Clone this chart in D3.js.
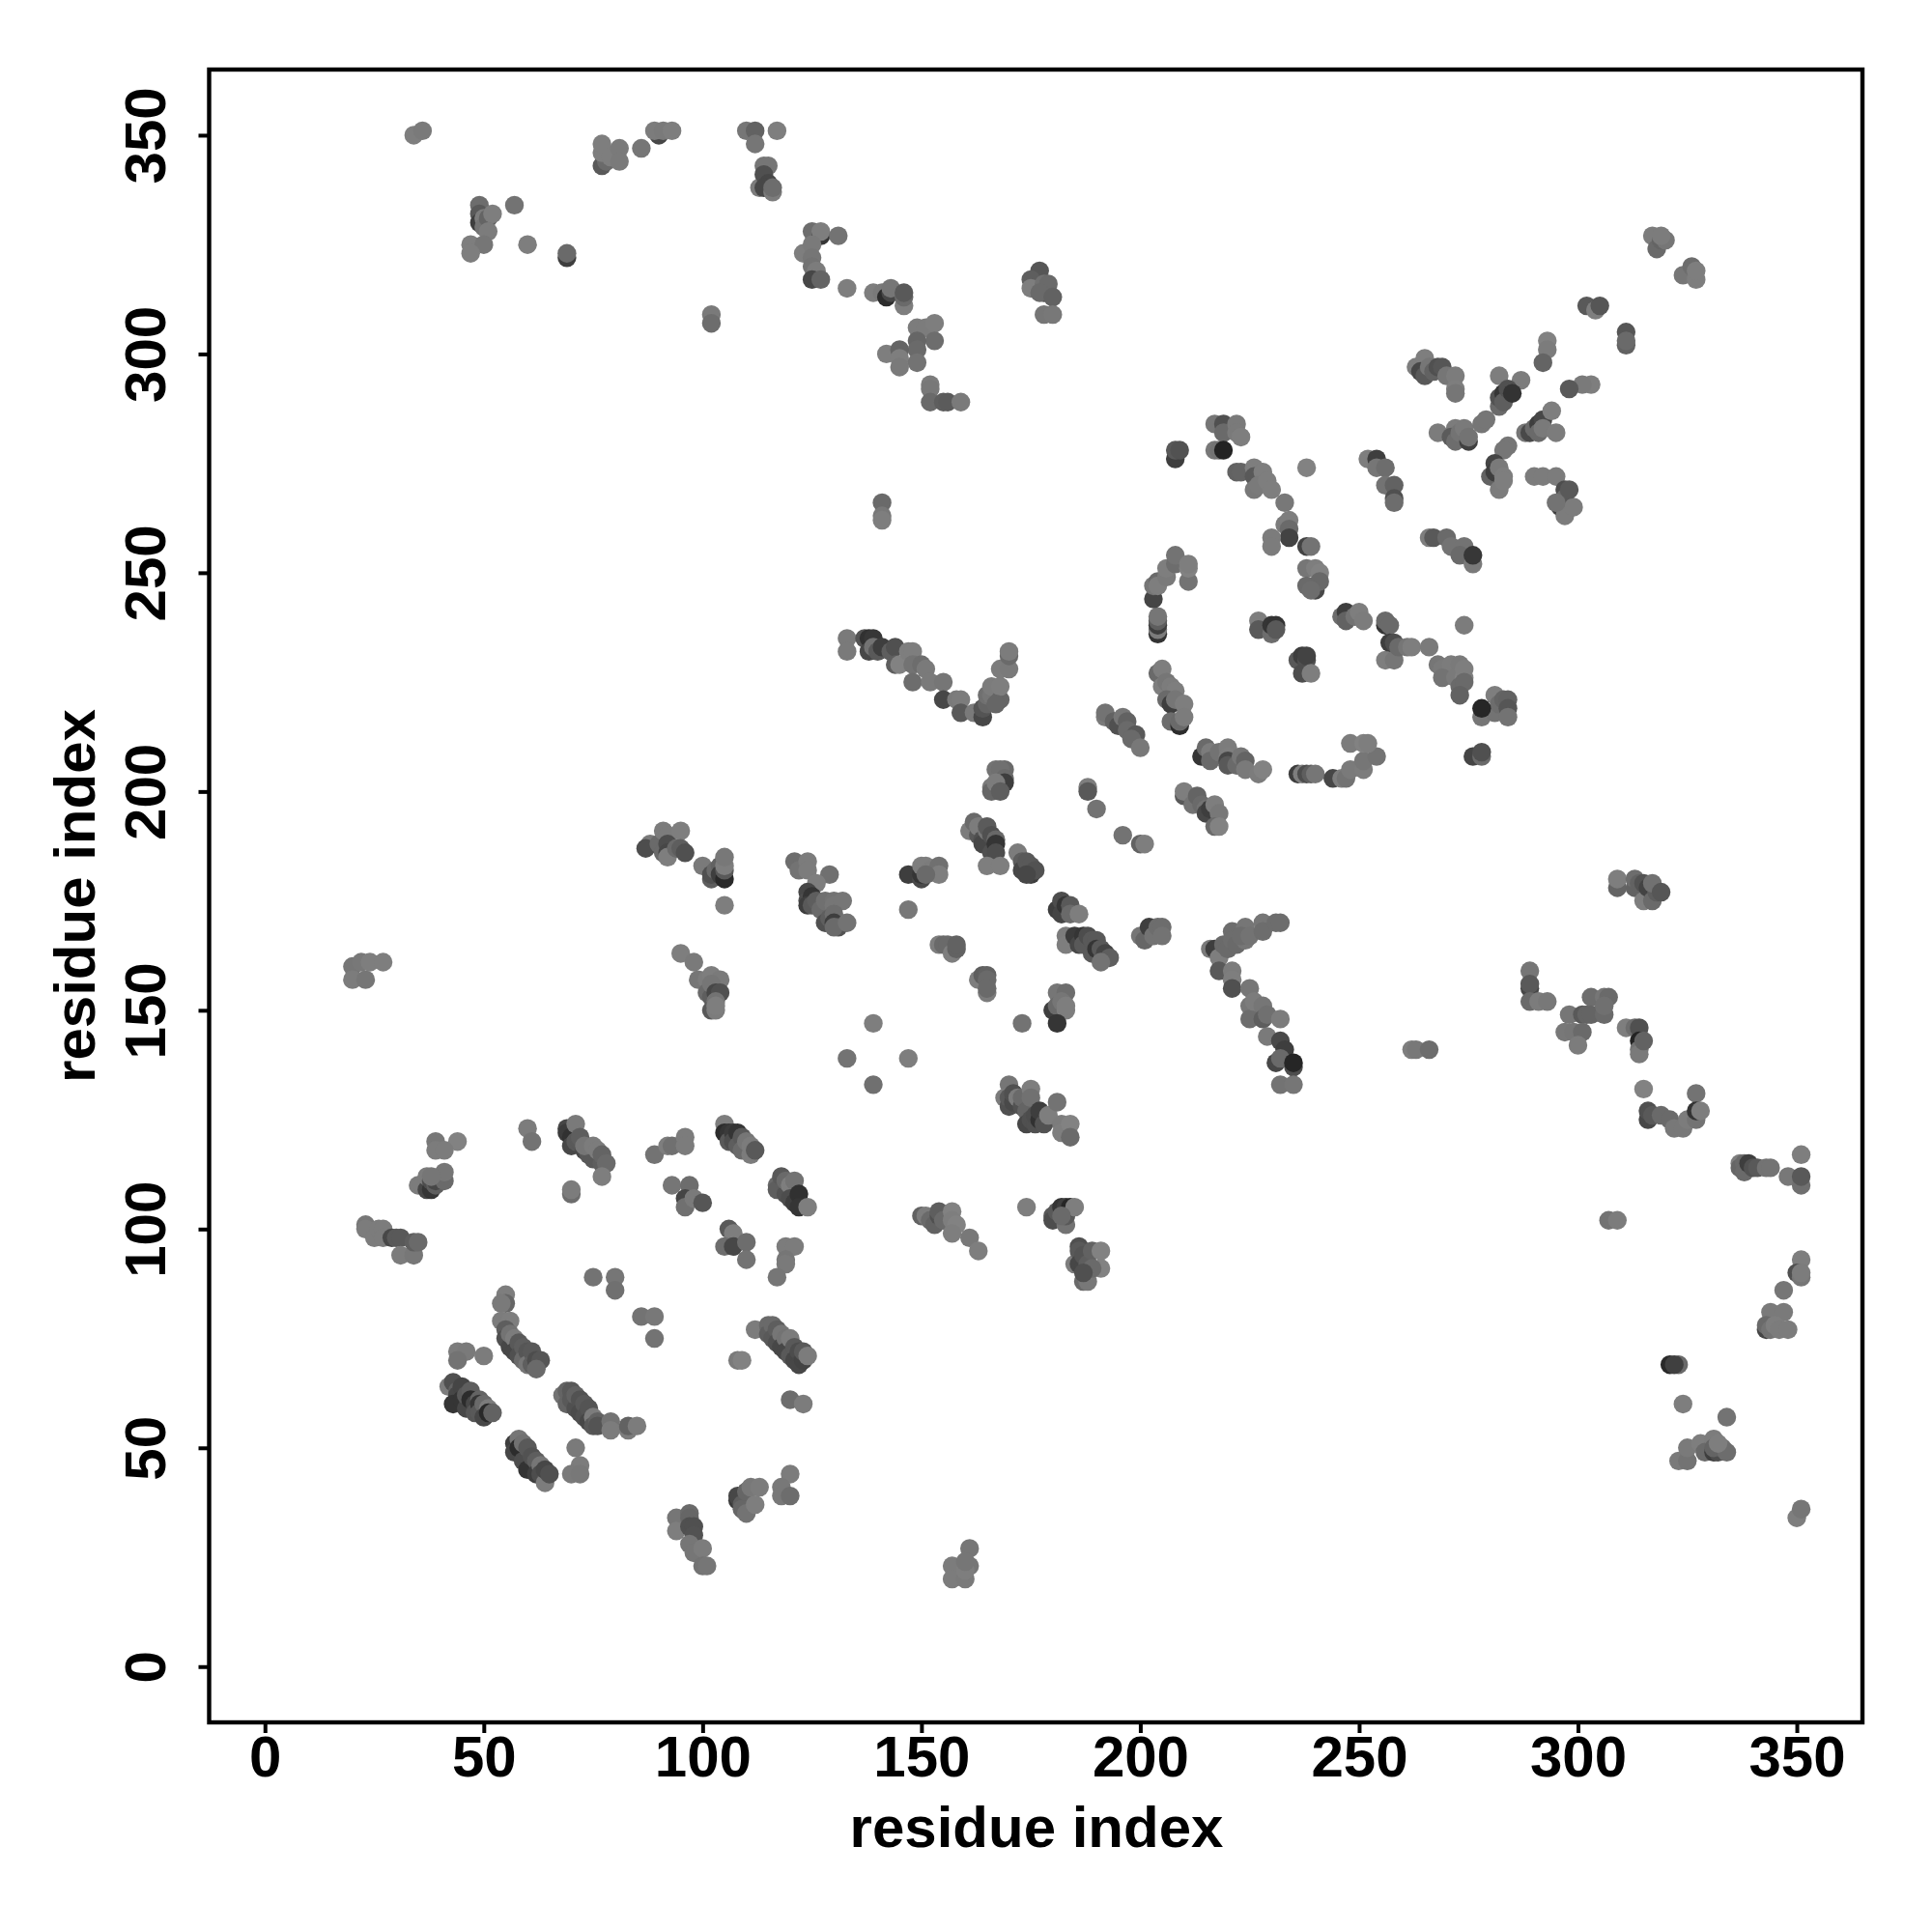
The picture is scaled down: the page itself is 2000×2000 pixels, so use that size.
<!DOCTYPE html>
<html><head><meta charset="utf-8">
<script src="https://d3js.org/d3.v7.min.js"></script>
<style>html,body{margin:0;background:#fff}svg{display:block}text{font-family:"Liberation Sans",Arial,sans-serif;font-weight:bold;fill:#000}</style>
</head><body><div id="chart"></div>
<script>
const tickValues=[0,50,100,150,200,250,300,350];
const xTitle="residue index", yTitle="residue index";
const residueI=[
39,44,39,41,
35,36,37,38,37,38,39,39,41,41,38,
23,23,25,26,27,27,29,30,31,31,34,34,35,
60,61,
69,69,70,71,70,71,72,72,73,74,75,73,75,76,77,77,78,77,
70,70,
89,92,93,96,96,
105,105,106,106,107,107,108,108,109,109,110,111,111,112,
93,97,96,96,98,100,
106,107,105,107,110,110,
75,80,80,86,89,89,
55,55,54,54,56,55,55,56,56,57,57,58,58,59,59,60,60,61,61,62,63,62,
44,46,44,50,
42,43,44,44,43,45,45,46,46,47,47,48,48,49,49,49,50,50,51,51,52,
68,69,69,70,70,71,71,72,72,73,73,74,74,75,75,76,76,79,79,83,83,85,
57,57,58,58,59,59,60,60,61,62,62,63,63,64,64,65,
71,72,70,72,
94,94,97,97,97,98,98,97,98,100,100,101,
108,108,109,109,110,110,111,113,112,
117,117,118,119,119,120,120,121,121,122,122,124,
119,121,119,119,117,
108,109,112,115,115,116,116,117,117,118,118,119,119,120,120,121,121,122,122,123,123,124,
120,123,120,118,118,120,
133,139,139,147,
170,169,170,170,171,171,172,173,173,174,175,175,174,175,176,176,177,177,178,179,181,182,182,184,184,
150,151,152,153,154,154,155,157,157,158,157,161,163,
174,180,180,181,182,183,183,183,184,185,182,
185,186,186,186,187,187,188,189,187,188,191,191,189,187,
157,157,160,161,160,161,160,
88,87,90,91,92,91,92,92,92,94,95,95,96,
100,102,102,103,104,104,105,105,105,105,
105,
121,122,124,124,129,126,124,124,125,124,125,126,127,128,130,130,132,128,129,130,130,131,130,133,
147,150,150,150,151,152,154,154,151,
147,
95,98,99,101,102,104,101,102,102,103,104,103,102,103,103,
154,155,156,157,158,158,
163,164,165,165,165,165,
181,183,180,181,182,183,183,181,
173,
133,133,137,138,139,138,139,140,141,143,144,144,145,147,148,148,150,151,148,152,155,155,158,159,159,162,164,164,165,165,166,166,168,168,168,170,170,170,167,
167,169,168,169,169,166,166,167,168,
161,162,163,163,164,164,165,165,166,166,167,167,167,165,168,172,173,173,174,175,175,176,174,
181,182,182,183,184,184,186,183,183,185,186,187,187,188,189,189,190,190,191,192,193,191,
188,188,190,196,200,201,
210,210,212,213,214,215,215,216,217,218,217,218,
214,215,216,216,218,220,220,220,220,222,223,224,224,227,228,
236,237,238,239,240,
244,246,247,248,251,251,254,248,251,252,
204,204,204,204,204,203,203,204,204,206,206,208,208,211,211,211,
192,192,194,195,196,197,197,199,198,200,
204,205,205,206,207,208,206,207,208,210,207,209,209,210,
217,219,219,222,222,223,217,218,219,
208,208,209,
222,223,226,226,226,228,227,229,230,
238,
233,233,234,234,234,230,230,
238,239,
238,240,241,240,238,240,241,239,
252,254,254,256,256,258,258,258,
266,267,270,271,274,273,276,276,
227,227,230,230,231,231,
246,247,247,249,250,251,
256,256,257,256,258,257,258,259,261,262,266,274,
236,237,238,237,238,239,
268,269,271,273,269,272,274,274,273,274,273,
278,281,281,282,283,284,284,284,278,
276,278,278,
268,272,271,272,273,274,275,275,278,279,
284,283,281,280,281,282,282,283,283,
317,318,319,320,319,
324,326,327,327,
302,304,305,
311,311,311,
293,293,292,
303,301,298,
282,287,282,282,283,283,284,285,
263,265,264,265,266,267,268,269,270,272,272,272,
288,289,290,291,291,292,292,295,294,
290,292,295,297,297,296,297,297,299,295,298,
216,217,218,218,221,221,221,225,225,225,226,228,228,229,229,232,231,232,233,232,235,235,232,235,
221,219,220,221,222,224,224,223,225,228,228,231,232,
200,201,202,203,204,205,205,
262,263,266,
289,289,289,289,291,293,
309,309,313,313,314,315,315,316,317,318,317,319,
303,306,307,298,301,302,303,306,306,297,299,301,300,
311,313,314,314,314,314,315,
315,
316,316,317,319,321,322,324,325,327,327,327,328,
337,337,338,338,339,340,341,343,344,
351,348,351,351,
307,309,
351,350,351,351,347,344,347,343,343,344,345,346,348,
321,323,322,
324,334,
323,325,325,328,329,331,331,332,333,331,334,332,
350,351,
34,36,
49,49,49,50,50,51,51,52,47,50,47,57,60,69,69,
77,78,77,77,79,81,81,86,
90,89,91,93,
110,112,112,117,
113,114,115,114,115,114,116,116,
125,127,127,131,123,125,125,125,126,125,127,133,
139,141,142,143,143,146,146,146,
102,102,
149,151,153,153,149,149,142,145,145,145,149,
152,152,152,155,156,159,
177,175,175,178,178,179,177,180,178,180,
141,141,141,
20,20,23,22,24,27
];
const residueJ=[
120,120,118,118,
110,110,109,109,112,111,110,111,111,113,112,
101,100,98,100,100,98,98,98,98,94,94,97,97,
123,120,
123,122,121,124,119,120,120,121,118,117,116,119,119,118,115,117,115,112,
108,109,
117,119,119,121,119,
124,122,122,120,122,120,122,119,121,118,120,117,119,118,
110,110,107,105,107,106,
100,99,96,96,97,93,
89,89,86,80,80,75,
85,83,83,79,79,77,75,73,76,75,72,74,71,73,70,72,69,72,69,70,70,68,
72,72,70,71,
64,65,63,62,60,64,61,59,62,63,61,60,58,61,60,58,60,57,59,58,58,
62,60,63,63,61,59,62,61,58,60,57,59,56,57,55,56,55,56,54,54,55,55,
51,49,52,50,51,47,50,45,48,47,44,46,44,42,45,44,
50,46,44,44,
34,31,35,34,32,32,30,28,26,27,23,23,
38,39,37,36,35,40,41,41,37,
110,109,112,108,111,110,107,106,111,108,105,105,
96,96,93,92,89,
70,70,77,78,76,78,75,77,74,76,73,75,72,75,71,73,70,72,69,70,72,71,
61,60,44,41,39,39,
139,147,133,139,
133,130,128,130,129,131,130,128,130,127,132,130,124,125,124,126,125,127,124,126,129,124,122,124,121,
103,103,102,101,103,104,102,104,102,101,99,98,95,
105,103,102,104,105,105,101,103,105,105,103,
92,96,95,92,91,94,92,95,88,88,95,91,91,90,
23,20,20,23,22,27,24,
188,187,188,191,190,186,188,186,185,187,191,187,186,
183,180,181,182,183,181,180,182,183,185,
174,
184,182,184,182,181,179,177,175,176,174,174,175,173,175,175,174,175,170,171,172,170,169,169,170,
181,180,181,183,183,182,183,181,181,
173,
163,161,157,157,158,157,154,153,156,154,154,152,150,150,151,
165,165,165,163,164,165,
157,158,158,157,154,155,
154,154,150,151,152,150,151,147,
147,
235,232,235,235,235,232,233,232,233,232,233,229,229,232,232,229,229,228,225,225,225,221,221,221,218,218,217,219,220,222,222,224,221,224,228,228,231,232,220,
205,205,205,203,202,201,200,202,200,
191,193,190,192,189,188,191,192,190,186,189,188,186,183,183,186,184,182,184,183,181,182,181,
173,175,172,174,174,172,172,167,165,167,165,167,165,167,163,166,166,164,164,163,162,161,
201,200,196,190,188,188,
199,200,197,199,197,196,195,196,197,195,192,192,
208,210,209,207,209,210,208,207,206,206,208,207,205,204,205,
204,204,204,204,204,
203,203,203,205,205,207,208,211,211,211,
236,237,238,239,240,244,247,248,247,249,251,252,254,248,251,252,
217,218,216,215,217,216,214,213,212,210,
227,228,224,225,224,223,221,220,221,220,216,215,216,217,
284,284,282,284,282,281,278,278,278,
276,278,278,
273,273,274,272,269,273,270,271,269,
274,
266,261,262,260,258,258,256,
256,256,
251,251,250,247,247,246,248,246,
276,276,274,274,270,270,267,266,
258,258,258,256,256,254,252,254,
239,237,236,238,238,237,
240,241,239,240,241,239,
238,239,238,230,230,234,234,233,233,233,233,238,
230,231,230,227,231,227,
229,228,229,229,226,226,226,228,224,225,222,
217,222,218,220,221,221,219,217,219,
208,208,209,
282,283,281,280,282,283,280,281,284,285,
279,278,275,272,273,274,269,272,271,
327,324,326,326,327,
318,320,317,319,
311,310,311,
305,302,303,
303,301,298,
293,293,292,
295,294,288,290,291,289,292,291,
297,299,296,295,297,296,297,297,295,295,292,291,
282,282,283,284,282,285,283,282,287,
272,272,272,269,267,265,265,263,265,266,269,
164,164,162,159,159,157,155,155,151,148,152,151,148,149,144,148,138,143,141,139,137,138,133,133,
168,165,164,166,165,169,166,167,167,170,168,170,170,
167,166,169,167,169,169,167,
141,141,141,
159,155,156,152,152,152,
178,180,178,180,179,179,175,178,175,177,179,177,
153,153,153,149,149,149,149,149,151,145,145,145,142,
146,146,146,143,141,140,143,
132,
125,127,126,126,125,123,123,125,131,125,127,127,
115,114,115,113,115,114,114,114,114,
117,112,110,112,
102,102,
93,90,89,90,86,81,81,77,78,77,78,77,77,
69,69,69,
60,57,
47,47,50,51,49,52,49,49,50,50,49,51,
34,36,
350,351,
334,332,330,331,329,331,328,332,325,325,323,334,325,322,323,
343,344,346,348,345,347,344,347,
350,351,351,351,
351,351,348,351,
338,343,343,341,339,338,337,338,
328,327,328,327,323,325,322,320,319,317,317,315,
314,314,313,314,315,311,313,314,
309,307,
306,306,307,303,303,301,300,301,299,297,298,
293,292,289,289,289,289,
319,317,315,316,314,316,314,313,309,309,
266,263,262,
160,157,157,161,161,161
];
const shade=[
0x6b,0x75,0x70,0x70,
0x70,0x70,0x40,0x30,0x70,0x45,0x55,0x40,0x60,0x6a,0x6a,
0x6b,0x70,0x70,0x70,0x70,0x70,0x40,0x50,0x50,0x70,0x6b,0x55,0x60,
0x70,0x68,
0x40,0x35,0x2c,0x6e,0x40,0x50,0x50,0x55,0x40,0x50,0x50,0x6a,0x70,0x70,0x55,0x5a,0x60,0x72,
0x62,0x70,
0x68,0x72,0x65,0x70,0x70,
0x72,0x28,0x30,0x50,0x35,0x45,0x30,0x55,0x50,0x60,0x6a,0x70,0x70,0x50,
0x6a,0x62,0x3e,0x65,0x6e,0x4e,
0x50,0x72,0x62,0x40,0x62,0x68,
0x68,0x6a,0x65,0x68,0x6c,0x68,
0x72,0x5c,0x6e,0x70,0x72,0x55,0x48,0x40,0x68,0x70,0x40,0x50,0x48,0x55,0x60,0x4e,0x6a,0x50,0x55,0x45,0x4e,0x60,
0x70,0x6e,0x68,0x70,
0x70,0x48,0x58,0x40,0x30,0x3e,0x30,0x40,0x50,0x55,0x28,0x40,0x4e,0x5a,0x30,0x50,0x60,0x40,0x70,0x25,0x58,
0x68,0x5a,0x5a,0x50,0x50,0x48,0x58,0x4a,0x44,0x50,0x48,0x4c,0x40,0x70,0x50,0x58,0x4c,0x68,0x70,0x70,0x58,0x70,
0x38,0x40,0x6a,0x28,0x66,0x45,0x50,0x2e,0x4a,0x55,0x38,0x6a,0x45,0x70,0x40,0x48,
0x6e,0x70,0x6e,0x6c,
0x6a,0x72,0x60,0x5c,0x48,0x48,0x4a,0x6a,0x6a,0x70,0x68,0x6a,
0x35,0x40,0x55,0x5c,0x68,0x5c,0x6c,0x70,0x72,
0x60,0x55,0x50,0x4a,0x60,0x72,0x45,0x38,0x68,0x2c,0x30,0x72,
0x70,0x70,0x6a,0x6e,0x6a,
0x6e,0x75,0x70,0x60,0x55,0x60,0x50,0x55,0x48,0x6a,0x40,0x68,0x40,0x70,0x50,0x50,0x40,0x45,0x40,0x3c,0x50,0x70,
0x62,0x70,0x70,0x6c,0x6c,0x62,
0x68,0x72,0x65,0x72,
0x6a,0x70,0x48,0x50,0x42,0x48,0x70,0x4a,0x60,0x5a,0x72,0x66,0x40,0x48,0x48,0x45,0x2c,0x38,0x4a,0x72,0x68,0x70,0x72,0x75,0x60,
0x58,0x70,0x60,0x58,0x48,0x55,0x60,0x75,0x72,0x75,0x72,0x6c,0x72,
0x72,0x50,0x45,0x50,0x30,0x38,0x68,0x50,0x22,0x72,0x60,
0x72,0x48,0x50,0x40,0x40,0x4c,0x55,0x58,0x60,0x6c,0x75,0x75,0x60,0x48,
0x70,0x70,0x6e,0x6a,0x72,0x6a,0x6a,
0x6e,0x45,0x60,0x70,0x70,0x60,0x45,0x40,0x72,0x60,0x72,0x55,0x48,
0x6e,0x55,0x48,0x60,0x58,0x38,0x25,0x50,0x72,0x6c,
0x72,
0x62,0x68,0x70,0x70,0x65,0x72,0x40,0x45,0x30,0x38,0x50,0x55,0x60,0x65,0x68,0x6a,0x6a,0x48,0x55,0x62,0x38,0x4a,0x60,0x68,
0x38,0x42,0x30,0x72,0x72,0x70,0x65,0x72,0x60,
0x6c,
0x72,0x6e,0x6a,0x70,0x72,0x6e,0x60,0x55,0x6a,0x40,0x48,0x68,0x50,0x70,0x72,
0x72,0x60,0x60,0x72,0x58,0x58,
0x72,0x55,0x58,0x60,0x70,0x60,
0x6a,0x62,0x38,0x60,0x6a,0x72,0x72,0x30,
0x68,
0x6e,0x6e,0x4c,0x2c,0x32,0x40,0x68,0x50,0x38,0x55,0x48,0x55,0x75,0x72,0x72,0x68,0x62,0x6e,0x62,0x6e,0x6a,0x40,0x6e,0x70,0x50,0x6e,0x40,0x4c,0x5a,0x65,0x6a,0x70,0x5c,0x72,0x70,0x6e,0x60,0x70,0x5c,
0x68,0x60,0x65,0x60,0x38,0x6e,0x5c,0x70,0x55,
0x70,0x60,0x50,0x70,0x48,0x40,0x6a,0x52,0x48,0x48,0x5e,0x30,0x45,0x72,0x72,0x70,0x55,0x40,0x50,0x50,0x38,0x4a,0x40,
0x38,0x45,0x3e,0x30,0x50,0x60,0x72,0x70,0x72,0x35,0x40,0x30,0x50,0x45,0x50,0x50,0x50,0x30,0x50,0x3e,0x55,0x68,
0x72,0x50,0x68,0x68,0x58,0x72,
0x50,0x72,0x68,0x5a,0x60,0x68,0x40,0x38,0x72,0x6c,0x60,0x75,
0x30,0x60,0x70,0x60,0x68,0x70,0x72,0x40,0x50,0x60,0x6a,0x5a,0x6e,0x70,0x75,
0x38,0x72,0x45,0x55,0x6a,
0x40,0x72,0x68,0x6e,0x70,0x6a,0x68,0x70,0x75,0x72,
0x2e,0x70,0x38,0x55,0x6a,0x3e,0x6a,0x60,0x72,0x6e,0x72,0x62,0x68,0x68,0x75,0x72,
0x6e,0x68,0x58,0x48,0x6a,0x58,0x60,0x50,0x60,0x6c,
0x60,0x72,0x72,0x6a,0x70,0x72,0x60,0x38,0x6a,0x72,0x62,0x28,0x60,0x70,
0x6a,0x48,0x60,0x6e,0x6e,0x72,0x6c,0x68,0x20,
0x38,0x50,0x4a,
0x58,0x5a,0x72,0x50,0x6c,0x72,0x6e,0x72,0x72,
0x75,
0x6c,0x70,0x72,0x60,0x3c,0x70,0x70,
0x3c,0x68,
0x6a,0x72,0x75,0x30,0x60,0x40,0x5e,0x62,
0x72,0x38,0x6a,0x62,0x68,0x58,0x48,0x62,
0x72,0x50,0x60,0x68,0x68,0x60,0x6e,0x32,
0x72,0x50,0x62,0x30,0x2e,0x50,
0x62,0x38,0x58,0x68,0x72,0x70,
0x30,0x60,0x60,0x72,0x6a,0x38,0x45,0x60,0x6a,0x72,0x6e,0x70,
0x50,0x38,0x48,0x45,0x3c,0x72,
0x6a,0x6e,0x70,0x6e,0x68,0x6e,0x75,0x72,0x60,0x60,0x58,
0x6a,0x72,0x68,0x62,0x5a,0x58,0x4e,0x68,0x22,
0x3e,0x60,0x48,
0x70,0x70,0x52,0x62,0x68,0x6e,0x3a,0x68,0x6a,0x6a,
0x6a,0x6a,0x3e,0x58,0x38,0x6e,0x70,0x72,0x72,
0x70,0x60,0x5a,0x6a,0x70,
0x6a,0x62,0x72,0x72,
0x50,0x72,0x4e,
0x4e,0x58,0x60,
0x75,0x70,0x5a,
0x72,0x6e,0x50,
0x72,0x70,0x60,0x4a,0x30,0x55,0x48,0x2e,
0x72,0x72,0x40,0x50,0x6a,0x58,0x48,0x4e,0x6a,0x70,0x72,0x6a,
0x6a,0x42,0x60,0x38,0x60,0x40,0x6e,0x70,0x72,
0x70,0x70,0x70,0x45,0x60,0x38,0x50,0x70,0x70,0x68,0x50,
0x6e,0x38,0x72,0x50,0x70,0x72,0x48,0x6a,0x6a,0x62,0x70,0x6a,0x55,0x65,0x6e,0x70,0x40,0x42,0x38,0x60,0x45,0x22,0x68,0x6a,
0x62,0x60,0x60,0x62,0x60,0x6a,0x6a,0x62,0x68,0x6a,0x62,0x62,0x62,
0x6a,0x5c,0x38,0x68,0x62,0x62,0x68,
0x72,0x6c,0x62,
0x6a,0x40,0x50,0x60,0x70,0x6c,
0x5a,0x72,0x58,0x62,0x58,0x4a,0x72,0x3c,0x60,0x55,0x66,0x4e,
0x62,0x6a,0x60,0x6a,0x50,0x5a,0x5a,0x60,0x65,0x6c,0x6a,0x60,0x70,
0x72,0x62,0x48,0x20,0x66,0x6e,0x58,
0x75,
0x40,0x48,0x50,0x60,0x60,0x6c,0x6c,0x70,0x68,0x68,0x2e,0x72,
0x72,0x5c,0x60,0x60,0x38,0x4a,0x50,0x68,0x68,
0x72,0x6c,0x64,0x50,
0x68,0x70,
0x72,0x48,0x6a,0x70,0x6a,0x6e,0x6e,0x3e,0x60,0x68,0x72,0x70,0x70,
0x25,0x60,0x3a,
0x72,0x68,
0x6e,0x68,0x6e,0x72,0x60,0x70,0x38,0x45,0x68,0x5a,0x62,0x72,
0x72,0x6a,
0x72,0x6e,
0x62,0x50,0x38,0x70,0x68,0x5a,0x70,0x72,0x72,0x6a,0x72,0x68,0x72,0x38,0x60,
0x50,0x60,0x72,0x72,0x72,0x6e,0x6e,0x6a,
0x40,0x70,0x6e,0x72,
0x6a,0x58,0x6a,0x72,
0x70,0x6a,0x6a,0x48,0x40,0x40,0x70,0x62,
0x62,0x30,0x72,0x68,0x72,0x6e,0x6a,0x68,0x70,0x40,0x5a,0x72,
0x72,0x6e,0x28,0x40,0x6a,0x72,0x60,0x50,
0x6e,0x62,
0x70,0x70,0x72,0x62,0x5c,0x60,0x72,0x5a,0x72,0x6e,0x68,
0x70,0x6c,0x60,0x55,0x52,0x6e,
0x4e,0x55,0x72,0x66,0x40,0x60,0x60,0x58,0x6a,0x6c,
0x60,0x6c,0x72,
0x6a,0x70,0x6a,0x6c,0x72,0x72
];

const W=2000,H=2000;
const x=d3.scaleLinear().domain([-12.75,365]).range([216.5,1928]);
const y=d3.scaleLinear().domain([-12.75,365]).range([1783,72]);
const grey=d3.scaleLinear().domain([0,230]).range(["#000000","#ffffff"]);
const svg=d3.select("#chart").append("svg").attr("width",W).attr("height",H);
svg.append("rect").attr("width",W).attr("height",H).attr("fill","#fff");

svg.append("g").selectAll("circle").data(d3.range(residueI.length)).join("circle")
  .attr("cx",i=>x(residueI[i])).attr("cy",i=>y(residueJ[i])).attr("r",9.7)
  .attr("fill",i=>grey(shade[i]));

const ax=svg.append("g").attr("transform","translate(0,1783)")
  .call(d3.axisBottom(x).tickValues(tickValues).tickSize(11).tickPadding(15));
const ay=svg.append("g").attr("transform","translate(216.5,0)")
  .call(d3.axisLeft(y).tickValues(tickValues).tickSize(11));
[ax,ay].forEach(a=>{a.select(".domain").remove();
  a.selectAll(".tick line").attr("stroke","#000").attr("stroke-width",4);
  a.selectAll("text").style("font-size","60px").style("font-family",'"Liberation Sans"').style("font-weight","bold").attr("fill","#000");});
ax.selectAll("text").attr("dy",null).attr("y",null).attr("transform",null)
  .attr("y",55.6);
ay.selectAll("text").attr("dy",null).attr("x",null).attr("text-anchor","middle")
  .attr("transform","translate(-45.5,0) rotate(-90)");

svg.append("rect").attr("x",216.5).attr("y",72).attr("width",1711.5).attr("height",1711)
  .attr("fill","none").attr("stroke","#000").attr("stroke-width",4.4);

svg.append("text").attr("x",1073).attr("y",1911.5).attr("text-anchor","middle").style("font-size","60px").text(xTitle);
svg.append("text").attr("transform","translate(98,927.5) rotate(-90)").attr("text-anchor","middle").style("font-size","60px").text(yTitle);
if(residueI.length!==residueJ.length||residueI.length!==shade.length)throw new Error("length mismatch");
</script></body></html>
